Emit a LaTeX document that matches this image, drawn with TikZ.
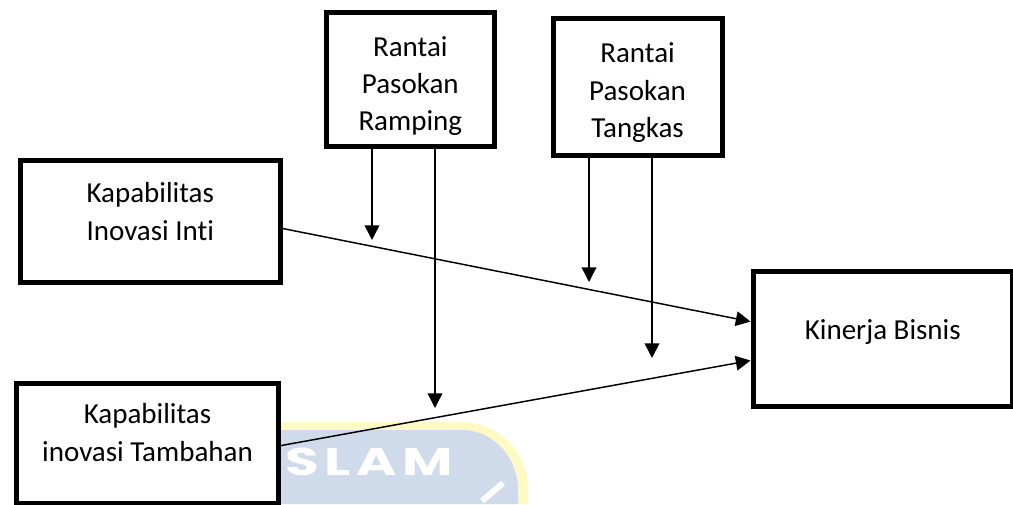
\documentclass[tikz,border=0pt]{standalone}
\usepackage{graphicx}
\usepackage{fontspec}
\setmainfont{Carlito}[Ligatures=NoCommon]
\newfontfamily\wmfont[LetterSpace=10]{Poppins}
\usetikzlibrary{arrows.meta}
\definecolor{wmblue}{HTML}{CFDAEA}
\definecolor{wmyellow}{HTML}{FFF9C2}
\begin{document}
\begin{tikzpicture}[x=0.75pt,y=-0.75pt,
  box/.style={draw, line width=3.8pt, fill=white, inner sep=0pt, outer sep=1.9pt, anchor=north west},
  lbl/.style={font=\fontsize{21.75pt}{28.1pt}\selectfont, align=center, inner sep=0pt},
  conn/.style={line width=1.1pt, -{Triangle[length=11pt,width=11pt]}},
  plainline/.style={line width=1.1pt}]
\useasboundingbox (0,0) rectangle (1013,504);
% watermark
\begin{scope}
\clip (0,0) rectangle (1013,504);
\fill[wmyellow] (265,504) -- (265,422) -- (462,422) .. controls (498,422) and (528,452) .. (528,490) -- (528,504) -- cycle;
\fill[wmblue] (265,504) -- (265,430) -- (462,430) .. controls (493,430) and (518,457) .. (518,490) -- (518,504) -- cycle;
\node[text=white, font=\wmfont\bfseries\fontsize{29pt}{29pt}\selectfont, anchor=base west, inner sep=0pt] (wm) at (285,475) {\scalebox{1.42}[1]{SLAM}};
\draw[white, line width=4.5pt] (482,501) -- (503,483);
\end{scope}
% boxes
\node[box, minimum width=194.63pt, minimum height=91.13pt] (inti) at (18,158) {};
\node[box, minimum width=125.63pt, minimum height=100.7pt] (ramp) at (324,9.7) {};
\node[box, minimum width=126.75pt, minimum height=102.75pt] (tang) at (550.5,15.5) {};
\node[box, minimum width=194.63pt, minimum height=101.63pt] (kin) at (750.5,268.5) {};
\node[box, minimum width=196.5pt, minimum height=89.63pt] (tamb) at (14,381) {};
% labels
\node[lbl] (tinti) at ([yshift=7.3pt]inti.center) {Kapabilitas\\Inovasi Inti};
\node[lbl] (tramp) at ([yshift=-5pt]ramp.center) {Rantai\\Pasokan\\Ramping};
\node[lbl] (ttang) at ([yshift=-4.5pt]tang.center) {Rantai\\Pasokan\\Tangkas};
\node[lbl] (ttamb) at ([yshift=8.06pt]tamb.center) {Kapabilitas\\inovasi Tambahan};
\node[lbl] (tkin) at ([yshift=5.4pt]kin.center) {Kinerja Bisnis};
% free ends
\coordinate (r1) at (372,240);
\coordinate (r2) at (435,408);
\coordinate (t1) at (589,282);
\coordinate (t2) at (652,358);
% connectors
\draw[conn] ([yshift=-5.4pt]inti.east) -- ([yshift=12.9pt]kin.west);
\draw[conn] ([yshift=-1.7pt]tamb.east) -- ([yshift=-16.3pt]kin.west);
\draw[conn] (ramp.south -| r1) -- (r1);
\draw[conn] (ramp.south -| r2) -- (r2);
\draw[conn] (tang.south -| t1) -- (t1);
\draw[conn] (tang.south -| t2) -- (t2);
\end{tikzpicture}
\end{document}
